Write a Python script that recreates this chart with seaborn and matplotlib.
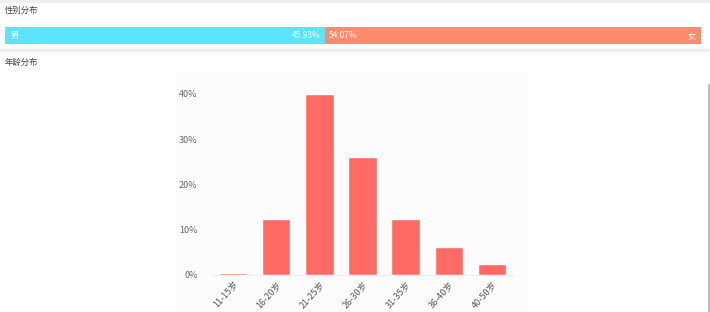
import matplotlib
matplotlib.use("Agg")
import matplotlib.pyplot as plt
import seaborn as sns
import pandas as pd
from matplotlib.patches import Rectangle
from matplotlib.lines import Line2D
from matplotlib.ticker import FuncFormatter

# ---- data ----
gender_labels = ["男", "女"]
gender_values = [45.93, 54.07]
age_groups = ["11-15岁", "16-20岁", "21-25岁", "26-30岁", "31-35岁", "36-40岁", "40-50岁"]
age_values = [0.5, 12.4, 40.0, 26.1, 12.4, 6.2, 2.5]
y_ticks = [0, 10, 20, 30, 40]

sns.set_theme(style="white")
plt.rcParams['font.family'] = ['Noto Sans CJK SC', 'DejaVu Sans']

W, H = 710, 312
fig = plt.figure(figsize=(W / 100, H / 100), dpi=100)
fig.patch.set_facecolor("white")

def fx(px):
    return px / W

def fy(py):
    return 1 - py / H

# separators and titles
fig.add_artist(Line2D([0, 1], [fy(1), fy(1)], color="#efefef", lw=2))
fig.add_artist(Line2D([0, 1], [fy(50), fy(50)], color="#eeeeee", lw=2.5))
fig.add_artist(Line2D([fx(708.5), fx(708.5)], [fy(85), fy(312)], color="#bdbdbd", lw=1.5))
fig.text(fx(5), fy(10), "性别分布", fontsize=6, color="#444444", va="center", ha="left")
fig.text(fx(5), fy(62), "年龄分布", fontsize=6, color="#444444", va="center", ha="left")

# ---- gender stacked bar ----
cyan = "#5ee3fd"
salmon = "#fe8b6c"
axg = fig.add_axes([fx(5), fy(44), fx(696), 17 / H])
gdf = pd.DataFrame({"g": gender_labels, "v": gender_values})
axg.barh([0], [gdf.v[0]], left=0, height=1.0, color=cyan, edgecolor="none")
axg.barh([0], [gdf.v[1]], left=gdf.v[0], height=1.0, color=salmon, edgecolor="none")
axg.set_xlim(0, 100)
axg.set_ylim(-0.5, 0.5)
axg.axis("off")
axg.text(0.8, 0, gdf.g[0], color="white", fontsize=6, va="center", ha="left")
axg.text(gdf.v[0] - 0.6, 0, f"{gdf.v[0]:.2f}%", color="white", fontsize=6, va="center", ha="right")
axg.text(gdf.v[0] + 0.6, 0, f"{gdf.v[1]:.2f}%", color="white", fontsize=6, va="center", ha="left")
axg.text(99.3, 0, gdf.g[1], color="white", fontsize=6, va="center", ha="right")

# ---- age bar chart ----
fig.add_artist(Rectangle((fx(176), fy(312)), fx(527 - 176), (312 - 72) / H,
                         facecolor="#fcfcfc", edgecolor="none", zorder=0))
ax = fig.add_axes([fx(211.5), fy(275), fx(513.5 - 211.5), (275 - 94) / H])
ax.set_facecolor("none")
adf = pd.DataFrame({"age": age_groups, "pct": age_values})
sns.barplot(data=adf, x="age", y="pct", color="#ff6a64", saturation=1, width=0.66, ax=ax)
ax.set_xlim(-0.5, len(age_groups) - 0.5)
ax.set_ylim(0, 40)
ax.set_yticks(y_ticks)
ax.yaxis.set_major_formatter(FuncFormatter(lambda v, p: f"{int(v)}%"))
ax.set_xlabel("")
ax.set_ylabel("")
for s in ["top", "right", "left"]:
    ax.spines[s].set_visible(False)
ax.spines["bottom"].set_color("#eeeeee")
ax.spines["bottom"].set_linewidth(0.8)
ax.tick_params(axis="y", length=0, labelsize=6.5, labelcolor="#666666", pad=10)
ax.tick_params(axis="x", length=0, labelsize=6.5, labelcolor="#555555", pad=3)
for lbl in ax.get_xticklabels():
    lbl.set_rotation(48)
    lbl.set_ha("right")
    lbl.set_rotation_mode("anchor")

fig.savefig("out.png", dpi=100, facecolor="white")
